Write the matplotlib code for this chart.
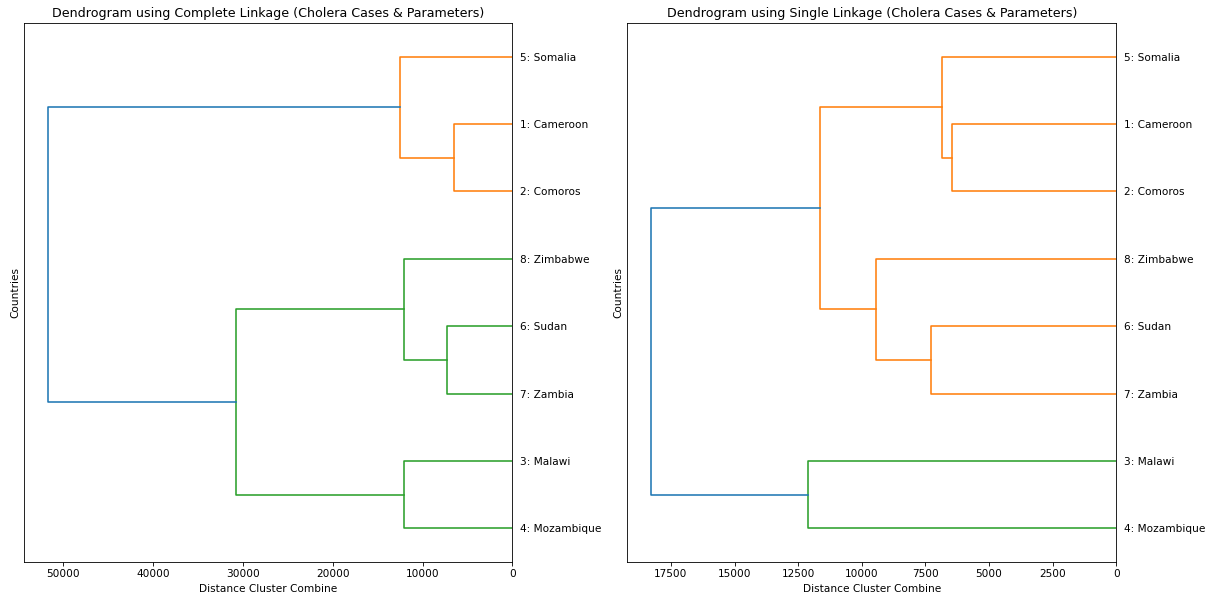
import matplotlib.pyplot as plt

# Countries, numbered 1..8 in the labels
countries = ["Cameroon", "Comoros", "Malawi", "Mozambique",
             "Somalia", "Sudan", "Zambia", "Zimbabwe"]

# Merge steps: (child_a, child_b, distance); leaves are 0..7, new clusters 8, 9, ...
complete_merges = [
    (1, 0, 6450),     # 8  Comoros + Cameroon
    (6, 5, 7280),     # 9  Zambia + Sudan
    (9, 7, 12050),    # 10 (Zambia, Sudan) + Zimbabwe
    (3, 2, 12110),    # 11 Mozambique + Malawi
    (8, 4, 12490),    # 12 (Comoros, Cameroon) + Somalia
    (11, 10, 30770),  # 13
    (13, 12, 51760),  # 14
]

single_merges = [
    (1, 0, 6450),     # 8  Comoros + Cameroon
    (8, 4, 6830),     # 9  + Somalia
    (6, 5, 7280),     # 10 Zambia + Sudan
    (10, 7, 9440),    # 11 + Zimbabwe
    (11, 9, 11660),   # 12
    (3, 2, 12110),    # 13 Mozambique + Malawi
    (13, 12, 18300),  # 14
]

x_ticks_complete = [0, 10000, 20000, 30000, 40000, 50000]
x_ticks_single = [0, 2500, 5000, 7500, 10000, 12500, 15000, 17500]

ABOVE_COLOR = "#1f77b4"
CLUSTER_COLORS = ["#ff7f0e", "#2ca02c", "#d62728", "#9467bd"]


def draw_dendrogram(ax, merges, title, xticks):
    n = len(countries)
    children = {n + i: (a, b) for i, (a, b, _) in enumerate(merges)}
    height = {i: 0.0 for i in range(n)}
    for i, (_, _, h) in enumerate(merges):
        height[n + i] = h
    root = n + len(merges) - 1
    threshold = 0.7 * max(height.values())

    # leaf order, bottom to top
    order = []

    def walk(node):
        if node < n:
            order.append(node)
        else:
            a, b = children[node]
            walk(a)
            walk(b)

    walk(root)
    ypos = {leaf: 5 + 10 * k for k, leaf in enumerate(order)}

    def ycoord(node):
        if node not in ypos:
            a, b = children[node]
            ypos[node] = (ycoord(a) + ycoord(b)) / 2
        return ypos[node]

    ycoord(root)

    # clusters below the threshold get their own colour, from the top down
    color = {}
    cluster_roots = []

    def find_roots(node):
        if node < n:
            return
        if height[node] < threshold:
            cluster_roots.append(node)
            return
        a, b = children[node]
        find_roots(b)
        find_roots(a)

    find_roots(root)

    def paint(node, c):
        if node < n:
            return
        color[node] = c
        a, b = children[node]
        paint(a, c)
        paint(b, c)

    for k, cr in enumerate(cluster_roots):
        paint(cr, CLUSTER_COLORS[k % len(CLUSTER_COLORS)])
    for node in children:
        color.setdefault(node, ABOVE_COLOR)

    for node, (a, b) in children.items():
        h = height[node]
        xs = [height[a], h, h, height[b]]
        ys = [ypos[a], ypos[a], ypos[b], ypos[b]]
        ax.plot(xs, ys, color=color[node], lw=1.5, solid_capstyle="projecting")

    ax.set_xlim(max(height.values()) * 1.05, 0)
    ax.set_ylim(0, 10 * n)
    ax.set_xticks(xticks)
    ax.set_yticks([ypos[l] for l in order])
    ax.set_yticklabels([f"{l + 1}: {countries[l]}" for l in order])
    ax.yaxis.set_ticks_position("right")
    for line in ax.get_yticklines():
        line.set_visible(False)
    ax.set_title(title)
    ax.set_xlabel("Distance Cluster Combine")
    ax.set_ylabel("Countries")
    ax.yaxis.set_label_position("left")


DPI = 76
W, H = 1214, 598
fig = plt.figure(figsize=(W / DPI, H / DPI), dpi=DPI)
ax1 = fig.add_axes([24.3 / W, 36 / H, 488 / W, 539 / H])
ax2 = fig.add_axes([627.3 / W, 36 / H, 489 / W, 539 / H])

draw_dendrogram(ax1, complete_merges,
                "Dendrogram using Complete Linkage (Cholera Cases & Parameters)",
                x_ticks_complete)
draw_dendrogram(ax2, single_merges,
                "Dendrogram using Single Linkage (Cholera Cases & Parameters)",
                x_ticks_single)

fig.savefig("out.png", dpi=DPI)
